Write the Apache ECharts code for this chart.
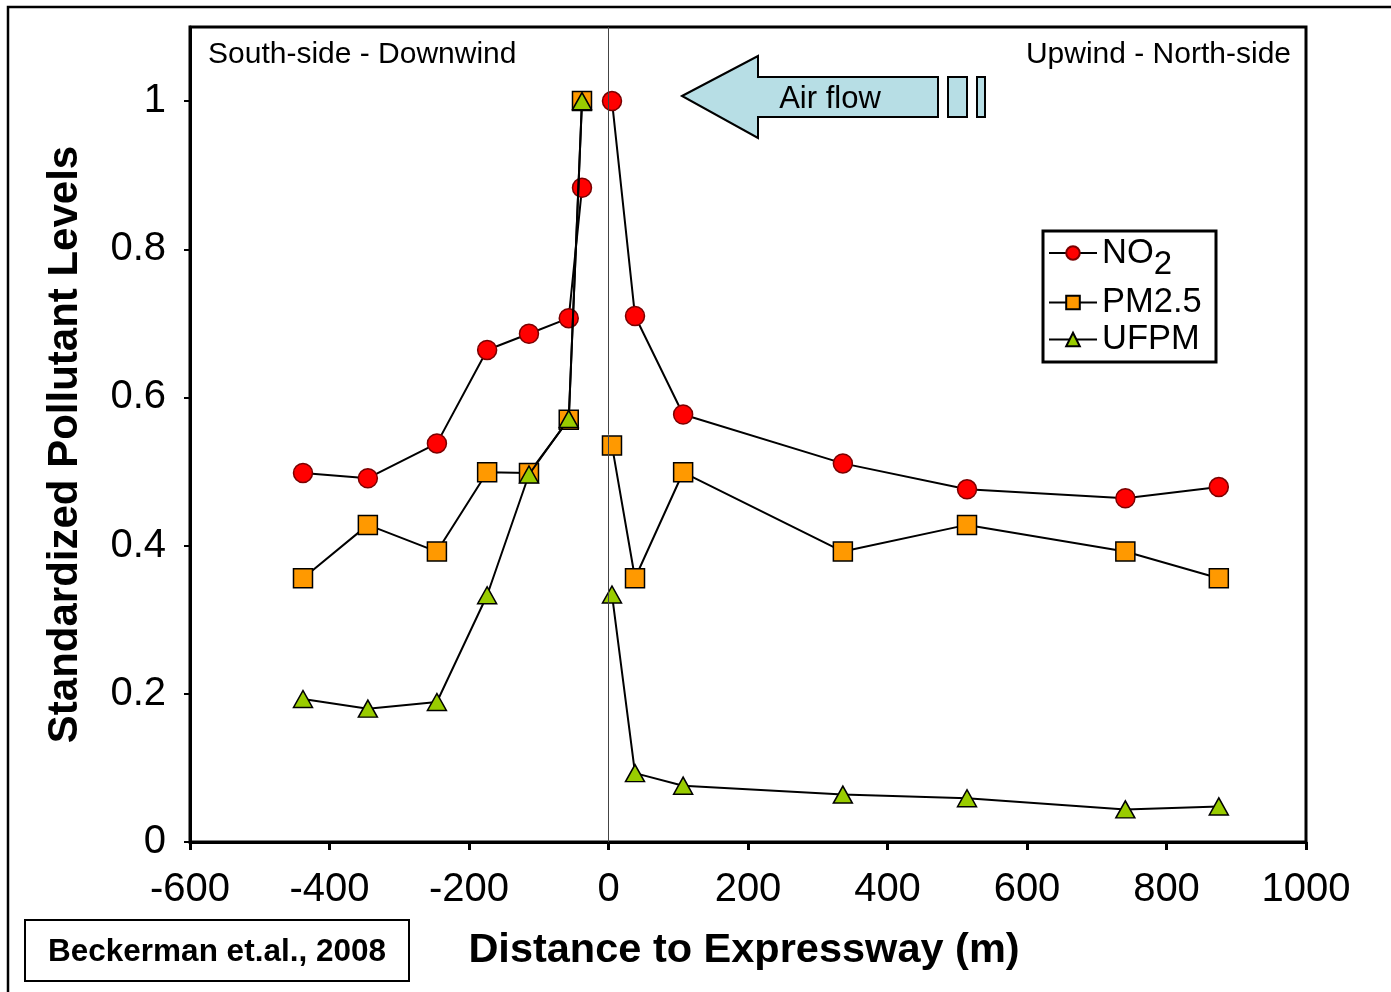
<!DOCTYPE html>
<html>
<head>
<meta charset="utf-8">
<script src="https://cdn.jsdelivr.net/npm/echarts@6/dist/echarts.min.js"></script>
<style>
html,body{margin:0;padding:0;background:#fff;}
#chart{width:1391px;height:992px;}
</style>
</head>
<body>
<div id="chart"></div>
<script>
// Distance to expressway (m)
const distances = [-438, -345, -246, -174, -114, -57, -38, 5, 38, 107, 336, 514, 741, 875];
// Standardized levels
const no2  = [0.498, 0.491, 0.538, 0.664, 0.686, 0.707, 0.883, 1.000, 0.710, 0.577, 0.511, 0.476, 0.464, 0.479];
const pm25 = [0.356, 0.428, 0.392, 0.499, 0.498, 0.570, 1.000, 0.535, 0.356, 0.499, 0.392, 0.428, 0.392, 0.356];
const ufpm = [0.193, 0.180, 0.189, 0.333, 0.496, 0.571, 1.000, 0.334, 0.093, 0.076, 0.064, 0.059, 0.044, 0.048];
const seriesNames = ['NO2', 'PM2.5', 'UFPM'];
// lines are broken across the expressway (between these two distances)
const roadGap = [-38, 5];
const xTicks = {min: -600, max: 1000, interval: 200};
const yTicks = {min: 0, max: 1.1, interval: 0.2};

const FONT = '"Liberation Sans", Arial, sans-serif';
const pairs = arr => {
  const out = [];
  distances.forEach((d, i) => {
    out.push([d, arr[i]]);
    if (d === roadGap[0]) out.push([(roadGap[0] + roadGap[1]) / 2, '-']);
  });
  return out;
};

const chart = echarts.init(document.getElementById('chart'), null, {renderer: 'canvas'});
chart.setOption({
  animation: false,
  backgroundColor: '#ffffff',
  textStyle: {fontFamily: FONT, color: '#000'},
  grid: {left: 190, right: 85, top: 27, bottom: 150, show: true, borderColor: '#000', borderWidth: 3, containLabel: false},
  xAxis: {
    type: 'value', min: xTicks.min, max: xTicks.max, interval: xTicks.interval,
    splitLine: {show: false},
    axisLine: {onZero: false, lineStyle: {color: '#000', width: 3}},
    axisTick: {inside: false, length: 8, lineStyle: {color: '#000', width: 3}},
    axisLabel: {fontSize: 40, color: '#000', fontFamily: FONT, margin: 28, formatter: v => String(v)},
    name: 'Distance to Expressway (m)', nameLocation: 'middle', nameGap: 88,
    nameTextStyle: {fontSize: 41.5, fontWeight: 'bold', color: '#000', fontFamily: FONT, padding: [0, 8, 0, 0]}
  },
  yAxis: {
    type: 'value', min: yTicks.min, max: yTicks.max, interval: yTicks.interval,
    splitLine: {show: false},
    axisLine: {onZero: false, lineStyle: {color: '#000', width: 3}},
    axisTick: {inside: false, length: 6, lineStyle: {color: '#000', width: 2}},
    axisLabel: {fontSize: 40, color: '#000', fontFamily: FONT, margin: 24, showMaxLabel: false,
      formatter: v => v > 1.05 ? '' : String(parseFloat(v.toFixed(1)))},
    name: 'Standardized Pollutant Levels', nameLocation: 'middle', nameGap: 104, nameRotate: 90,
    nameTextStyle: {fontSize: 42, fontWeight: 'bold', color: '#000', fontFamily: FONT, padding: [0, 20, 0, 0]}
  },
  legend: {
    orient: 'vertical', left: 1048, top: 223, padding: 0, itemGap: 2,
    itemWidth: 48, itemHeight: 17, selectedMode: false,
    data: seriesNames,
    formatter: name => name === 'NO2' ? '{no|NO}{sub|2}' : '{n|' + name + '}',
    textStyle: {
      color: '#000', fontFamily: FONT, fontSize: 34.5,
      rich: {
        no: {fontSize: 34.5, lineHeight: 60, verticalAlign: 'middle', fontFamily: FONT, color: '#000'},
        sub: {fontSize: 33, lineHeight: 36, height: 36, padding: [24, 0, 0, 0], verticalAlign: 'bottom', fontFamily: FONT, color: '#000'},
        n: {fontSize: 34.5, lineHeight: 36, fontFamily: FONT, color: '#000'}
      }
    }
  },
  graphic: [
    {type: 'polyline', shape: {points: [[8, 992], [8, 7], [1391, 7]]}, style: {stroke: '#000', lineWidth: 2.5, fill: null}},
    {type: 'rect', shape: {x: 1043, y: 231, width: 173, height: 131}, style: {stroke: '#000', lineWidth: 3, fill: null}, z: 10},
    {type: 'text', style: {text: 'South-side - Downwind', x: 208, y: 55, font: '30px ' + FONT, fill: '#000', textAlign: 'left', textVerticalAlign: 'middle', verticalAlign: 'middle'}},
    {type: 'text', style: {text: 'Upwind - North-side', x: 1291, y: 55, font: '30px ' + FONT, fill: '#000', textAlign: 'right', textVerticalAlign: 'middle', verticalAlign: 'middle'}},
    {type: 'polygon', shape: {points: [[682, 96], [758, 56], [758, 77], [938, 77], [938, 117], [758, 117], [758, 138]]}, style: {fill: '#B7DEE5', stroke: '#000', lineWidth: 2}},
    {type: 'rect', shape: {x: 948, y: 77, width: 19, height: 40}, style: {fill: '#B7DEE5', stroke: '#000', lineWidth: 2}},
    {type: 'rect', shape: {x: 977, y: 77, width: 8, height: 40}, style: {fill: '#B7DEE5', stroke: '#000', lineWidth: 2}},
    {type: 'text', style: {text: 'Air flow', x: 830, y: 99, font: '31px ' + FONT, fill: '#000', textAlign: 'center', textVerticalAlign: 'middle', verticalAlign: 'middle'}},
    {type: 'rect', shape: {x: 25, y: 920, width: 384, height: 61}, style: {stroke: '#000', lineWidth: 2, fill: '#fff'}},
    {type: 'text', style: {text: 'Beckerman et.al., 2008', x: 217, y: 952, font: 'bold 31.5px ' + FONT, fill: '#000', textAlign: 'center', textVerticalAlign: 'middle', verticalAlign: 'middle'}}
  ],
  series: [
    {
      name: 'NO2', type: 'line', data: pairs(no2), connectNulls: false,
      symbol: 'circle', symbolSize: 19,
      lineStyle: {color: '#000', width: 2},
      itemStyle: {color: '#FF0000', borderColor: '#7a0000', borderWidth: 1.5},
      markLine: {silent: true, symbol: ['none', 'none'], label: {show: false},
        lineStyle: {color: '#444', width: 1, type: 'solid'}, data: [{xAxis: 0}]},
      z: 2
    },
    {
      name: 'PM2.5', type: 'line', data: pairs(pm25), connectNulls: false,
      symbol: 'rect', symbolSize: 19,
      lineStyle: {color: '#000', width: 2},
      itemStyle: {color: '#FF9900', borderColor: '#000', borderWidth: 1.5},
      z: 3
    },
    {
      name: 'UFPM', type: 'line', data: pairs(ufpm), connectNulls: false,
      symbol: 'triangle', symbolSize: [19, 17],
      lineStyle: {color: '#000', width: 2},
      itemStyle: {color: '#99CC00', borderColor: '#000', borderWidth: 1.5},
      z: 4
    }
  ]
});
</script>
</body>
</html>
